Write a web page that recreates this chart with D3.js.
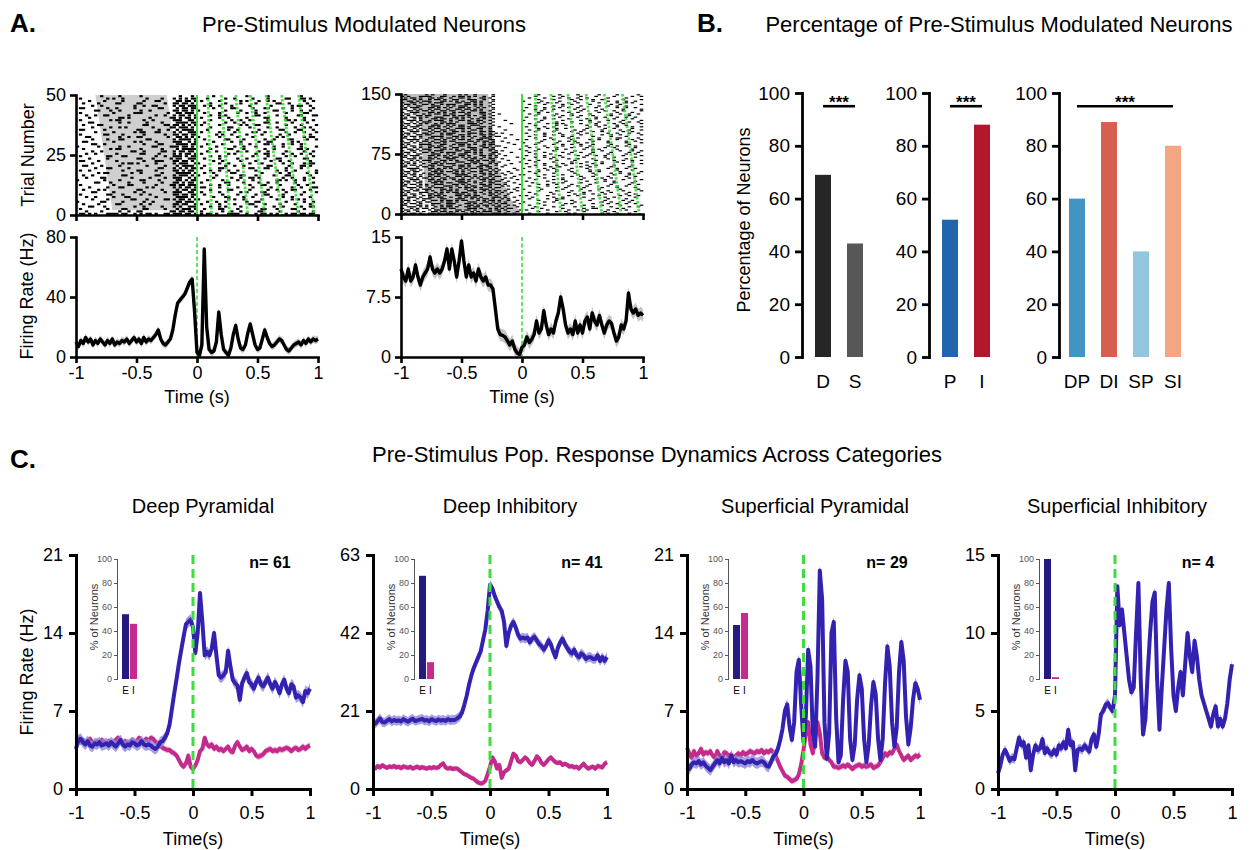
<!DOCTYPE html>
<html>
<head>
<meta charset="utf-8">
<script src="https://cdn.jsdelivr.net/npm/d3@7"></script>
<style>
body { margin: 0; background: #fff; }
svg { font-family: "Liberation Sans", Arial, Helvetica, sans-serif; }
</style>
</head>
<body>
<svg id="fig" width="1259" height="850"></svg>
<script>
// ---------- data ----------
// PSTH sample times: -1 s .. 1 s every 20 ms
const timeGrid = d3.range(101).map(i => +(-1 + i * 0.02).toFixed(2));

// panel A, example neurons (Hz)
const rateA1 = [
  10, 7, 11, 9, 13, 10, 12, 8, 11, 9,
  12, 10, 8, 11, 9, 12, 8, 10, 9, 11,
  10, 12, 9, 11, 13, 10, 12, 9, 13, 10,
  12, 11, 13, 15, 18, 12, 9, 8, 10, 12,
  18, 28, 36, 38, 40, 42, 46, 50, 52, 30,
  3, 1, 8, 72, 20, 5, 3, 4, 10, 30,
  15, 5, 3, 1, 6, 15, 21, 12, 6, 5,
  8, 16, 22, 15, 8, 5, 6, 12, 18, 13,
  9, 7, 8, 10, 12, 11, 8, 5, 4, 6,
  8, 9, 10, 8, 11, 9, 12, 10, 12, 11,
  12];
const rateA2 = [
  11, 10, 9.5, 11, 9.5, 10, 11.5, 10, 9, 10,
  10.5, 11, 12.5, 11, 10.5, 11, 10.5, 11, 12, 13.5,
  11, 13.5, 12, 10, 12, 14.5, 12, 10, 11.5, 10,
  10.5, 9.5, 11, 10, 9.5, 10, 9, 9, 8.5, 6,
  3.5, 2.8, 2.7, 2.5, 2, 1.5, 2, 1, 0.5, 0.3,
  1.2, 1.5, 2.5, 1.8, 2.2, 2.8, 4.5, 3, 3.5, 5.8,
  4, 2.8, 3.5, 3, 4.5, 5.5, 7.5, 6, 4, 3,
  3.5, 2.8, 4.5, 3, 4, 3, 4.5, 5, 3.5, 5.5,
  4.5, 4, 5.2, 4, 3, 4, 4.5, 4.2, 3, 2,
  2.5, 4, 3.5, 4.5, 8, 6, 5.5, 6, 5.2, 5.5,
  5.2];
const semA = [2.5, 0.8];

// raster spike bitmaps: one hex string per row (bottom row first), 80 bins of 25 ms, MSB first
const rasterA1 = [
  "6A3D95A6ED5A3C96A5B6", "10824C01B640920C1042", "402183045D2184062190", "0C401208A70942104826",
  "21060480D94108621084", "80C102406E1240980412", "04203106B58029042150", "1208C0207A0461208904",
  "40310480DB2084130820", "06081204E64102860411", "21400C085B0830412984", "08230140AD6104208123",
  "40086021B70920461048", "03104208D64061092082", "804206106B1084203490", "10C02084E50412680912",
  "24018030BA8203104604", "016024087D2418041209", "48010C20D60924102481", "02304018AB4180630420",
  "308201045E2049018234", "04016820B98120440916", "61040238DA0482109204", "08200C41672104823018",
  "40318024EB0940210482", "12040610AD4028130924", "0480320CB61204890412", "201604085F0831024068",
  "81024061DA4209104821", "064002187B1082430920", "30081420E50412098140", "04230180BD2061024309",
  "18024C026A8104202816", "40610204DB0290841204", "02081630A74108320491", "60400C125E1024081862",
  "04128041BA0830412094", "21800306D54102980421", "0C0241087B2049032108", "40160240E60812410692",
  "08034081AD4120830410", "12604024B50940182063", "40081C026E2104920418", "03120480DA8042106124",
  "602410185B0418230902", "04801260B72910408164", "21060C04DA0842103208", "084102306D4102894012",
  "40290108AB1048210634", "00820400220400810020"];
const rasterA2 = [
  "5A69C5A3A42081402910", "A536A95C920412081204", "6C5A3695A14081240820", "95A6C3A5581204098140",
  "3A95A6C9A20820410412", "C6A5935A942104082081", "5A39C6A5610402810924", "A6C5A39AA48120402410",
  "6935AC56920410821048", "A5C6395A502094010820", "3A6C95A3A41024081204", "C95A36C5214081204092",
  "5A6C3A96900820491024", "A3956CA5482041082410", "6CA5A395A20410820841", "95C6A53A148204104082",
  "3A5C96A5820412082104", "C6A3A59C502081240920", "5A9C6A35A10490820412", "A6359CA6241024108208",
  "6A5C3A95904082041204", "9C6A5A36420824109041", "35A6C95A282104082410", "CA5936A5840420910824",
  "5A6A3C96218104208210", "A95C6A35480820410492", "6C35A9A5102410824081", "9A5C6A3A820491024108",
  "3C6A95A5048120840924", "C5A39A6C402048120410", "5A6C5A39200912048208", "A935C6A5084104912041",
  "6A5A39C6810820842108", "95C6A35A102410408249", "3A69C5A6408041210820", "CA536A95020924081204",
  "5C6A9A35204108249041", "A6395CA6800841020824", "69A5C6A3082104910412", "9A5C36A5404820412089",
  "35C6A9A6010412094108", "CA5A639A202090841204", "5A6C9A35804104120924", "A3C65A96040824910410",
  "6A5A3C96108410240821", "95A6C35A400209410824", "3C9A5A66024120824109", "CA65A93C200841204182",
  "5A3C6A95802104810420", "A6C59A36080924102481", "69A5C3A5404108240912", "9C5A6A36000820912048",
  "35A6C9A4202410482091", "CA593A64000492041208", "5C6A9A34804120824109", "A63959C2000812049120",
  "6A95C3A4082094108241", "95C6A352000410824092", "3A5C9A64208204120841", "CA36A952000921048208",
  "5A9C6A34004108209124", "A6C35A92000824910410", "695AC634802410820492", "9C6A5A32000481204108",
  "35A6C9A4008204109241", "CA5936A2000920482041", "5C6A9A52004109208124", "A6395CA4000824104920",
  "69A5C6A2002104820481", "9A5C36A4000491204128", "35C6A9A2008208410924", "CA5A6392000420912041",
  "5A6C9A34002109240820", "A3C65A92000824108209", "40A21482000408204102"];
const rasterBin = 0.025;
// shaded pre-stimulus windows [time, trial]
const windowA1 = [[-0.84, 50], [-0.25, 50], [-0.11, 2], [-0.70, 2]];
const windowA2 = [[-1, 150], [-0.28, 150], [-0.26, 130], [-0.24, 105], [-0.22, 80], [-0.19, 55],
  [-0.14, 35], [-0.08, 15], [-0.02, 3], [0, 0], [-0.72, 0], [-0.74, 10], [-0.8, 30],
  [-0.82, 75], [-0.84, 115], [-0.9, 132], [-1, 140]];
// stimulus event streaks [time at top trial, time at bottom trial]
const eventsA1 = [[0.09, 0.12], [0.2, 0.27], [0.32, 0.42], [0.44, 0.56], [0.57, 0.7], [0.7, 0.84], [0.84, 0.97]];
const eventsA2 = [[0.11, 0.13], [0.24, 0.32], [0.38, 0.5], [0.53, 0.66], [0.68, 0.82], [0.83, 0.97]];

// panel B, percentage of modulated neurons
const catB1 = ["D", "S"], pctB1 = [69, 43];
const catB2 = ["P", "I"], pctB2 = [52, 88];
const catB3 = ["DP", "DI", "SP", "SI"], pctB3 = [60, 89, 40, 80];

// panel C, population PSTHs (Hz); blue = excited, pink = inhibited
const c1Blue = [
  3.6, 4.4, 4.5, 4.2, 4.0, 4.3, 3.9, 3.8, 4.1, 4.0,
  4.2, 3.9, 4.0, 4.1, 3.9, 4.2, 4.0, 3.8, 4.1, 4.4,
  4.0, 3.8, 4.0, 3.9, 4.2, 4.1, 3.9, 4.0, 4.3, 4.0,
  3.9, 4.0, 3.9, 3.7, 3.6, 3.8, 4.2, 4.3, 4.6, 5.0,
  5.8, 7.2, 8.6, 9.9, 11.3, 12.5, 13.7, 14.8, 15.0, 15.2,
  14.5, 12.2, 14.0, 17.6, 15.0, 12.0, 12.3, 12.0, 12.6, 14.0,
  12.0, 10.2, 10.0, 10.2, 10.5, 12.4, 11.0, 9.8, 9.5, 9.3,
  8.0, 9.5, 10.0, 10.4, 9.6, 9.4, 9.0, 9.6, 10.0, 9.4,
  9.2, 9.6, 10.0, 9.4, 9.0, 9.6, 9.2, 8.6, 9.4, 9.8,
  9.0, 8.6, 9.4, 9.2, 8.2, 8.4, 8.2, 7.8, 8.8, 8.6,
  9.0];
const c1Pink = [
  4.4, 4.6, 4.2, 4.4, 4.1, 4.3, 4.5, 4.2, 4.0, 4.3,
  4.1, 4.4, 4.2, 4.0, 4.3, 4.1, 4.2, 4.4, 4.6, 4.2,
  4.1, 4.3, 4.0, 4.2, 4.4, 4.1, 4.3, 4.6, 4.2, 4.3,
  4.5, 4.3, 4.6, 4.5, 4.2, 4.1, 3.9, 3.7, 3.6, 3.5,
  3.5, 3.3, 3.2, 3.0, 2.6, 2.2, 2.0, 2.3, 3.0, 2.0,
  1.8, 2.1, 2.6, 3.4, 3.6, 4.6, 4.0, 3.8, 4.0, 3.6,
  3.8, 3.5, 3.6, 3.4, 3.6, 3.8, 3.4, 3.3, 3.9, 4.2,
  3.8, 3.5, 3.6, 3.8, 3.4, 3.6, 3.4, 3.0, 2.9, 3.0,
  3.1, 3.4, 3.5, 3.6, 3.4, 3.5, 3.4, 3.6, 3.5, 3.6,
  3.7, 3.6, 3.4, 3.6, 3.7, 3.5, 3.6, 3.8, 3.6, 3.8,
  3.9];
const c2Blue = [
  18.0, 17.6, 18.3, 19.0, 18.0, 17.9, 18.4, 18.8, 18.2, 18.6,
  18.3, 18.5, 18.2, 18.8, 18.4, 18.1, 18.6, 18.9, 18.3, 18.5,
  18.7, 18.9, 18.4, 18.6, 18.2, 18.8, 18.5, 18.3, 18.7, 18.4,
  18.6, 18.3, 18.8, 18.5, 18.6, 18.6, 19.0, 19.5, 20.5, 22.6,
  25.0, 28.0, 30.5, 32.5, 34.0, 35.5, 37.0, 40.0, 43.0, 48.0,
  55.0, 54.0, 52.0, 50.5, 49.0, 48.0, 45.0, 38.5, 42.0, 44.0,
  45.0, 43.5, 41.5, 40.5, 40.8, 40.5, 40.8, 39.5, 40.5, 41.0,
  40.0, 39.0, 38.5, 37.5, 38.5, 40.0, 39.0, 37.0, 35.5, 38.0,
  39.5, 40.5, 39.0, 38.0, 37.0, 36.5, 37.5, 36.0, 35.5, 36.5,
  36.0, 35.0, 35.5, 35.5, 35.0, 35.0, 36.0, 34.5, 35.5, 34.5,
  35.5];
const c2Pink = [
  6.0, 5.6, 6.2, 5.8, 6.4, 6.0, 5.7, 6.1, 5.9, 6.2,
  5.8, 6.0, 5.6, 6.1, 5.9, 5.7, 6.0, 5.5, 5.8, 6.0,
  5.6, 5.9, 5.7, 5.5, 5.8, 5.6, 5.9, 5.7, 5.8, 6.5,
  6.9, 5.8, 5.5, 5.7, 5.4, 5.5, 5.5, 5.0, 4.5, 4.0,
  3.8, 3.4, 3.0, 2.8, 2.2, 1.7, 1.5, 1.6, 2.2, 4.0,
  6.0, 8.5, 7.5, 5.5, 6.5, 3.0, 4.5, 5.0, 5.5, 7.5,
  9.5, 9.0, 7.5, 7.2, 7.8, 8.5, 8.0, 7.0, 6.5, 7.5,
  8.8, 8.2, 7.0, 6.5, 7.2, 8.0, 8.5, 7.8, 7.2, 7.0,
  7.2, 6.5, 6.8, 6.5, 6.0, 6.2, 5.8, 6.0, 5.5, 6.2,
  6.8, 6.0, 5.5, 5.8, 6.0, 5.5, 6.2, 6.0, 5.8, 6.8,
  7.2];
const c3Blue = [
  2.0, 1.8, 2.2, 2.4, 2.3, 2.5, 2.2, 2.4, 2.1, 1.9,
  1.7, 2.0, 2.3, 2.6, 2.3, 2.8, 2.4, 2.6, 2.3, 3.0,
  2.4, 2.6, 2.4, 2.5, 2.4, 2.3, 2.5, 2.4, 2.6, 2.4,
  2.3, 2.4, 2.5, 2.4, 2.1, 2.0, 2.4, 2.9, 3.1, 3.6,
  4.4, 5.4, 7.0, 7.6, 5.6, 4.4, 6.0, 10.5, 11.6, 7.5,
  4.2, 6.5, 12.5, 11.0, 5.0, 3.8, 10.0, 19.6, 17.0, 6.0,
  2.7, 5.0, 14.0, 15.0, 6.5, 2.4, 3.0, 8.0, 11.5, 10.5,
  4.5, 2.6, 4.0, 8.0, 10.2, 9.0, 4.5, 2.4, 4.0, 7.5,
  9.6, 8.5, 4.5, 2.6, 4.5, 9.5, 12.8, 11.0, 6.0, 3.8,
  5.5, 10.5, 13.2, 11.5, 6.5, 4.0, 5.5, 8.0, 9.5, 9.0,
  8.0];
const c3Pink = [
  3.7, 3.2, 2.8, 3.4, 3.0, 3.2, 3.6, 3.1, 3.3, 3.2,
  3.4, 3.0, 2.8, 3.4, 3.0, 2.7, 3.3, 3.2, 2.9, 3.1,
  2.8, 3.0, 3.2, 3.0, 3.3, 3.1, 3.2, 3.4, 3.3, 3.2,
  3.4, 3.3, 3.5, 3.2, 3.4, 3.3, 3.5, 3.3, 3.0, 2.5,
  2.0, 1.6, 1.2, 1.1, 0.9, 0.7, 0.8, 0.9, 1.3, 2.2,
  3.5, 5.0, 6.0, 4.0, 3.2, 4.5, 6.0, 5.0, 3.2, 2.8,
  3.0, 2.6, 2.4, 2.0, 2.0, 1.9, 2.0, 2.1, 2.0, 2.2,
  2.0, 1.8, 2.0, 2.1, 2.2, 2.0, 2.1, 2.0, 2.1, 2.2,
  1.9, 2.0, 2.1, 2.4, 2.8, 3.2, 3.0, 3.3, 3.2, 3.6,
  4.0, 3.4, 3.0, 2.6, 2.8, 3.0, 2.6, 2.8, 3.0, 2.9,
  3.1];
const c4Blue = [
  1.0, 1.5, 2.2, 2.5, 2.2, 1.8, 2.0, 1.9, 2.6, 3.3,
  2.8, 3.0, 2.0, 2.8, 1.2, 2.2, 2.8, 2.5, 2.6, 3.2,
  2.3, 2.6, 2.3, 2.2, 2.5, 2.2, 2.8, 2.6, 3.0, 2.6,
  3.8, 2.8, 3.0, 1.2, 2.5, 2.6, 2.5, 2.8, 2.6, 2.4,
  3.2, 3.5, 2.7, 3.5, 4.8, 5.0, 5.4, 5.5, 5.2, 5.0,
  6.0, 13.0, 10.5, 11.5, 10.0, 8.5, 7.0, 6.2, 6.5, 10.0,
  13.2, 7.0, 3.5, 4.5, 7.5, 10.0, 12.0, 12.6, 7.0, 3.8,
  6.5, 9.0, 11.5, 13.2, 9.0, 6.0, 5.0, 6.5, 7.5, 6.0,
  8.0, 10.0, 8.5, 7.5, 9.5, 8.5, 7.0, 6.0, 5.5, 5.0,
  4.5, 4.0, 4.8, 5.3, 4.0, 4.5, 4.0, 4.5, 5.5, 7.0,
  8.0];
const semBlue = [0.5, 1.3, 0.5, 0.3];
const semPink = [0.3, 0.7, 0.3, 0];

const cTitles = ["Deep Pyramidal", "Deep Inhibitory", "Superficial Pyramidal", "Superficial Inhibitory"];
const cCounts = [61, 41, 29, 4];
const cYMax = [21, 63, 21, 15];
const cYTicks = [[0, 7, 14, 21], [0, 21, 42, 63], [0, 7, 14, 21], [0, 5, 10, 15]];
const insetCats = ["E", "I"];
const insetExc = [54, 86, 45, 100];
const insetInh = [46, 14, 55, 1.5];
const timeTicks = [-1, -0.5, 0, 0.5, 1];

// ---------- drawing ----------
const svg = d3.select("#fig");
const ink = "#000";
const green = "#3fdc3f";
const blue = "#3322b0", blueSem = "#9088d8";
const pink = "#c42a8c", pinkSem = "#e59ac8";
const plain = d => String(d);   // hyphen minus like the original

function styleAxis(g, stroke, size, color) {
  g.attr("font-family", null).attr("font-size", size);
  g.select(".domain").attr("stroke", color || ink).attr("stroke-width", stroke).attr("stroke-linecap", "square");
  g.selectAll(".tick line").attr("stroke", color || ink).attr("stroke-width", stroke);
  g.selectAll(".tick text").attr("fill", color || ink);
}

function label(x, y, txt, size, opts = {}) {
  const t = svg.append("text")
    .attr("x", x).attr("y", y)
    .attr("font-size", size)
    .attr("text-anchor", opts.anchor || "middle")
    .attr("font-weight", opts.weight || "normal")
    .attr("fill", opts.fill || ink)
    .text(txt);
  if (opts.rotate) t.attr("transform", `rotate(-90,${x},${y})`);
  return t;
}

// headings
label(10, 32, "A.", 26, { anchor: "start", weight: "bold" });
label(364, 32, "Pre-Stimulus Modulated Neurons", 22);
label(697, 32, "B.", 26, { anchor: "start", weight: "bold" });
label(999, 32, "Percentage of Pre-Stimulus Modulated Neurons", 22);
label(10, 468, "C.", 26, { anchor: "start", weight: "bold" });
label(657, 462, "Pre-Stimulus Pop. Response Dynamics Across Categories", 22);

function decodeRow(hex) {
  const bins = [];
  for (let k = 0; k < hex.length; k++) {
    const v = parseInt(hex[k], 16);
    for (let b = 0; b < 4; b++) if (v & (8 >> b)) bins.push(k * 4 + b);
  }
  return bins;
}

function drawRaster(x, y, rows, trialsPerRow, windowPts, events, spikeW, spikeH, shade) {
  const g = svg.append("g");
  const nTrials = y.domain()[1];
  g.append("path")
    .attr("d", d3.line().x(d => x(d[0])).y(d => y(d[1]))(windowPts) + "Z")
    .attr("fill", shade);
  const spikes = [];
  rows.forEach((hex, r) => {
    decodeRow(hex).forEach(bin => spikes.push({ t: -1 + bin * rasterBin, trial: (r + 0.5) * trialsPerRow }));
  });
  g.selectAll("rect.spk").data(spikes).join("rect")
    .attr("class", "spk")
    .attr("x", d => x(d.t + rasterBin / 2) - spikeW / 2)
    .attr("y", d => y(d.trial) - spikeH / 2)
    .attr("width", spikeW).attr("height", spikeH)
    .attr("fill", ink);
  g.append("line")
    .attr("x1", x(0)).attr("x2", x(0)).attr("y1", y(nTrials)).attr("y2", y(0))
    .attr("stroke", green).attr("stroke-width", 2);
  g.selectAll("line.evt").data(events).join("line")
    .attr("class", "evt")
    .attr("x1", d => x(d[0])).attr("y1", y(nTrials))
    .attr("x2", d => x(d[1])).attr("y2", y(0))
    .attr("stroke", green).attr("stroke-width", 2.8)
    .attr("stroke-dasharray", "2.5 1.5").attr("opacity", 0.9);
  const ax = g.append("g").attr("transform", `translate(0,${y(0)})`)
    .call(d3.axisBottom(x).tickValues(timeTicks).tickSize(6).tickSizeOuter(0).tickFormat(""));
  styleAxis(ax, 2.6, 18);
  const ay = g.append("g").attr("transform", `translate(${x(-1)},0)`)
    .call(d3.axisLeft(y).tickValues([0, nTrials / 2, nTrials]).tickSize(6).tickPadding(4).tickSizeOuter(0).tickFormat(plain));
  styleAxis(ay, 2.6, 18);
}

function drawRate(x, y, values, sem, ticks) {
  const g = svg.append("g");
  const pts = timeGrid.map((t, i) => ({ t, v: values[i] }));
  g.append("path").datum(pts)
    .attr("d", d3.area().x(d => x(d.t)).y0(d => y(Math.max(0, d.v - sem))).y1(d => y(d.v + sem)))
    .attr("fill", "#c4c4c4");
  g.append("line")
    .attr("x1", x(0)).attr("x2", x(0)).attr("y1", y.range()[1]).attr("y2", y(0))
    .attr("stroke", green).attr("stroke-width", 1.6).attr("stroke-dasharray", "4 2.5");
  g.append("path").datum(pts)
    .attr("d", d3.line().x(d => x(d.t)).y(d => y(d.v)))
    .attr("fill", "none").attr("stroke", ink).attr("stroke-width", 3.4).attr("stroke-linejoin", "round");
  const ax = g.append("g").attr("transform", `translate(0,${y(0)})`)
    .call(d3.axisBottom(x).tickValues(timeTicks).tickSize(6).tickPadding(3).tickSizeOuter(0).tickFormat(plain));
  styleAxis(ax, 2.6, 18);
  const ay = g.append("g").attr("transform", `translate(${x(-1)},0)`)
    .call(d3.axisLeft(y).tickValues(ticks).tickSize(6).tickPadding(4).tickSizeOuter(0).tickFormat(plain));
  styleAxis(ay, 2.6, 18);
}

// ----- panel A -----
const xA1 = d3.scaleLinear().domain([-1, 1]).range([76, 318]);
const xA2 = d3.scaleLinear().domain([-1, 1]).range([401, 643]);
drawRaster(xA1, d3.scaleLinear().domain([0, 50]).range([215, 95]), rasterA1, 1, windowA1, eventsA1, 3.3, 2.1, "#cfcfcf");
drawRaster(xA2, d3.scaleLinear().domain([0, 150]).range([214, 94]), rasterA2, 2, windowA2, eventsA2, 3.6, 1.2, "#bdbdbd");
drawRate(xA1, d3.scaleLinear().domain([0, 80]).range([357, 237]), rateA1, semA[0], [0, 40, 80]);
drawRate(xA2, d3.scaleLinear().domain([0, 15]).range([357, 237]), rateA2, semA[1], [0, 7.5, 15]);
label(34, 155, "Trial Number", 18, { rotate: true });
label(33, 296, "Firing Rate (Hz)", 18, { rotate: true });
label(197, 403, "Time (s)", 18);
label(522, 403, "Time (s)", 18);

// ----- panel B -----
const yB = d3.scaleLinear().domain([0, 100]).range([357, 93]);
const bColors = [["#262626", "#575757"], ["#2166ac", "#b2182b"], ["#4393c3", "#d6604d", "#92c5de", "#f4a582"]];
[[catB1, pctB1, 802], [catB2, pctB2, 929], [catB3, pctB3, 1059]].forEach(([cats, vals, ax0], gi) => {
  const g = svg.append("g");
  const x = d3.scaleBand().domain(cats).range([ax0 + (cats.length > 2 ? 2 : 5), ax0 + (cats.length > 2 ? 130 : 69)])
    .paddingInner(0.5).paddingOuter(0.25);
  g.selectAll("rect").data(cats).join("rect")
    .attr("x", d => x(d)).attr("width", x.bandwidth())
    .attr("y", (d, i) => yB(vals[i])).attr("height", (d, i) => yB(0) - yB(vals[i]))
    .attr("fill", (d, i) => bColors[gi][i]);
  g.selectAll("text.cat").data(cats).join("text")
    .attr("class", "cat")
    .attr("x", d => x(d) + x.bandwidth() / 2).attr("y", 388)
    .attr("text-anchor", "middle").attr("font-size", 19).text(d => d);
  const ay = g.append("g").attr("transform", `translate(${ax0},0)`)
    .call(d3.axisLeft(yB).tickValues([0, 20, 40, 60, 80, 100]).tickSize(7).tickPadding(5).tickSizeOuter(0));
  styleAxis(ay, 2.8, 19);
  const x1 = x(cats[0]) + x.bandwidth() / 2, x2 = x(cats[cats.length - 1]) + x.bandwidth() / 2;
  g.append("line").attr("x1", x1).attr("x2", x2).attr("y1", yB(95)).attr("y2", yB(95))
    .attr("stroke", ink).attr("stroke-width", 2.6);
  g.append("text").attr("x", (x1 + x2) / 2).attr("y", yB(95) + 2).attr("text-anchor", "middle")
    .attr("font-size", 17).attr("font-weight", "bold").text("***");
});
label(750, 220, "Percentage of Neurons", 18, { rotate: true });

// ----- panel C -----
const cLeft = [76, 373, 687, 998], cRight = [310, 607, 920, 1232];
const cTitleX = [203, 510, 815, 1117], cCountX = [270, 582, 887, 1198];
const cBlues = [c1Blue, c2Blue, c3Blue, c4Blue], cPinks = [c1Pink, c2Pink, c3Pink, null];
cTitles.forEach((title, k) => {
  const x = d3.scaleLinear().domain([-1, 1]).range([cLeft[k], cRight[k]]);
  const y = d3.scaleLinear().domain([0, cYMax[k]]).range([789, 555]);
  const g = svg.append("g");
  label(cTitleX[k], 513, title, 20);
  const series = [[cBlues[k], semBlue[k], blue, blueSem], [cPinks[k], semPink[k], pink, pinkSem]];
  // sem bands first, then means (pink under blue)
  [series[1], series[0]].forEach(([vals, sem, col, semCol]) => {
    if (!vals) return;
    const pts = timeGrid.map((t, i) => ({ t, v: vals[i] }));
    g.append("path").datum(pts)
      .attr("d", d3.area().x(d => x(d.t)).y0(d => y(Math.max(0, d.v - sem))).y1(d => y(d.v + sem)))
      .attr("fill", semCol).attr("opacity", 0.8);
    g.append("path").datum(pts)
      .attr("d", d3.line().x(d => x(d.t)).y(d => y(d.v)))
      .attr("fill", "none").attr("stroke", col).attr("stroke-width", 4).attr("stroke-linejoin", "round");
  });
  g.append("line")
    .attr("x1", x(0)).attr("x2", x(0)).attr("y1", y(cYMax[k])).attr("y2", y(0))
    .attr("stroke", green).attr("stroke-width", 3).attr("stroke-dasharray", "9 5");
  const ax = g.append("g").attr("transform", `translate(0,${y(0)})`)
    .call(d3.axisBottom(x).tickValues(timeTicks).tickSize(7).tickPadding(10).tickSizeOuter(0).tickFormat(plain));
  styleAxis(ax, 3, 18);
  const ay = g.append("g").attr("transform", `translate(${x(-1)},0)`)
    .call(d3.axisLeft(y).tickValues(cYTicks[k]).tickSize(7).tickPadding(6).tickSizeOuter(0).tickFormat(plain));
  styleAxis(ay, 3, 18);
  label((cLeft[k] + cRight[k]) / 2, 845, "Time(s)", 18);
  label(cCountX[k], 568, "n= " + cCounts[k], 16, { weight: "bold" });

  // inset: share of excited / inhibited neurons
  const ix = cLeft[k] + 41;
  const yIn = d3.scaleLinear().domain([0, 100]).range([679, 559]);
  const xIn = d3.scaleBand().domain(insetCats).range([ix + 5, ix + 20]).paddingInner(0.12);
  const inVals = [insetExc[k], insetInh[k]];
  g.selectAll("rect.in").data(insetCats).join("rect")
    .attr("class", "in")
    .attr("x", d => xIn(d)).attr("width", xIn.bandwidth())
    .attr("y", (d, i) => yIn(inVals[i])).attr("height", (d, i) => yIn(0) - yIn(inVals[i]))
    .attr("fill", (d, i) => i === 0 ? "#261a80" : "#c62a8c");
  g.selectAll("text.in").data(insetCats).join("text")
    .attr("class", "in")
    .attr("x", d => xIn(d) + xIn.bandwidth() / 2).attr("y", 694)
    .attr("text-anchor", "middle").attr("font-size", 10).text(d => d);
  const ai = g.append("g").attr("transform", `translate(${ix},0)`)
    .call(d3.axisLeft(yIn).tickValues([0, 20, 40, 60, 80, 100]).tickSize(3).tickPadding(2).tickSizeOuter(0));
  styleAxis(ai, 1, 9, "#555");
  label(ix - 19, 617, "% of Neurons", 11, { rotate: true, fill: "#333" });
});
label(33, 672, "Firing Rate (Hz)", 18, { rotate: true });
</script>
</body>
</html>
